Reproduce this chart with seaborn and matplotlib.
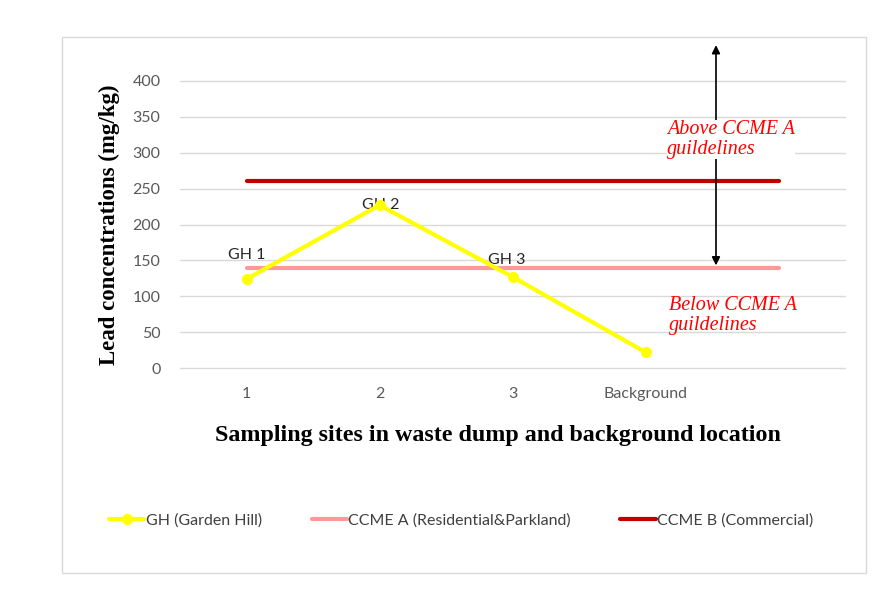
import pandas as pd
import matplotlib.pyplot as plt
import seaborn as sns
from matplotlib.patches import Rectangle

sites = ['1', '2', '3', 'Background', '']
gh_values = [124, 227, 127, 22]
ccme_a = [140, 140, 140, 140, 140]
ccme_b = [260, 260, 260, 260, 260]
gh_labels = ['GH 1', 'GH 2', 'GH 3']

sns.set_theme(style='white')
plt.rcParams['font.family'] = ['Lato', 'DejaVu Sans']

fig = plt.figure(figsize=(8.96, 6.01), dpi=100)
fig.patch.set_facecolor('white')
fig.patches.append(Rectangle((62 / 896, 1 - 573 / 601), 804 / 896, 536 / 601,
                             transform=fig.transFigure, fill=False,
                             edgecolor='#d9d9d9', linewidth=1))
ax = fig.add_axes([180 / 896, 1 - 368 / 601, 665 / 896, 287 / 601])

pos = list(range(len(sites)))
gh = pd.DataFrame({'x': pos[:len(gh_values)], 'y': gh_values})
lines = pd.DataFrame({'x': pos, 'a': ccme_a, 'b': ccme_b})

sns.lineplot(data=gh, x='x', y='y', ax=ax, color='#FFFF00', linewidth=3,
             marker='o', markersize=8, markeredgewidth=0,
             label='GH (Garden Hill)', zorder=4)
sns.lineplot(data=lines, x='x', y='a', ax=ax, color='#FF9999', linewidth=3,
             label='CCME A (Residential&Parkland)', zorder=3)
sns.lineplot(data=lines, x='x', y='b', ax=ax, color='#C00000', linewidth=3,
             label='CCME B (Commercial)', zorder=3)

ax.set_xlim(-0.5, len(sites) - 0.5)
ax.set_ylim(0, 400)
ax.set_yticks(range(0, 401, 50))
ax.set_xticks(pos)
ax.set_xticklabels(sites)
ax.tick_params(axis='both', colors='#595959', labelsize=11.5, length=0)
ax.tick_params(axis='x', pad=14)
ax.tick_params(axis='y', pad=14)
ax.yaxis.grid(True, color='#d9d9d9', linewidth=1)
for gl in ax.get_ygridlines():
    gl.set_clip_on(False)
ax.set_axisbelow(True)
for s in ax.spines.values():
    s.set_visible(False)

ax.set_ylabel('Lead concentrations (mg/kg)', family='Liberation Serif',
              fontweight='bold', fontsize=16.5, color='black', labelpad=9)
ax.set_xlabel('Sampling sites in waste dump and background location',
              family='Liberation Serif', fontweight='bold', fontsize=17.3,
              color='black', labelpad=16)
ax.xaxis.set_label_coords(0.478, -0.2)

offsets = [(0, 12), (1, 0), (-4, 7)]
valign = ['bottom', 'center', 'bottom']
for i, lab in enumerate(gh_labels):
    ax.annotate(lab, (pos[i], gh_values[i]), xytext=offsets[i],
                textcoords='offset points', ha='center', va=valign[i],
                fontsize=11.5, color='#262626')

ax.annotate('', xy=(3.53, 450), xytext=(3.53, 143), annotation_clip=False,
            arrowprops=dict(arrowstyle='<|-|>', color='black', lw=1.2,
                            mutation_scale=12, shrinkA=0, shrinkB=0))
ax.text(3.16, 318, 'Above CCME A\nguildelines', family='Liberation Serif',
        style='italic', fontsize=14.5, color='#FF0000', va='center',
        ha='left', linespacing=1.05,
        bbox=dict(facecolor='white', edgecolor='none', pad=0))
ax.text(3.18, 73, 'Below CCME A\nguildelines', family='Liberation Serif',
        style='italic', fontsize=14.5, color='#FF0000', va='center',
        ha='left', linespacing=1.05)

leg = ax.legend(loc='center', bbox_to_anchor=(0.423, -0.53), ncol=3,
                frameon=False, fontsize=11.5, handlelength=2.2,
                columnspacing=3.1, handletextpad=0.1)
for t in leg.get_texts():
    t.set_color('#404040')

fig.savefig('out.png', dpi=100)
